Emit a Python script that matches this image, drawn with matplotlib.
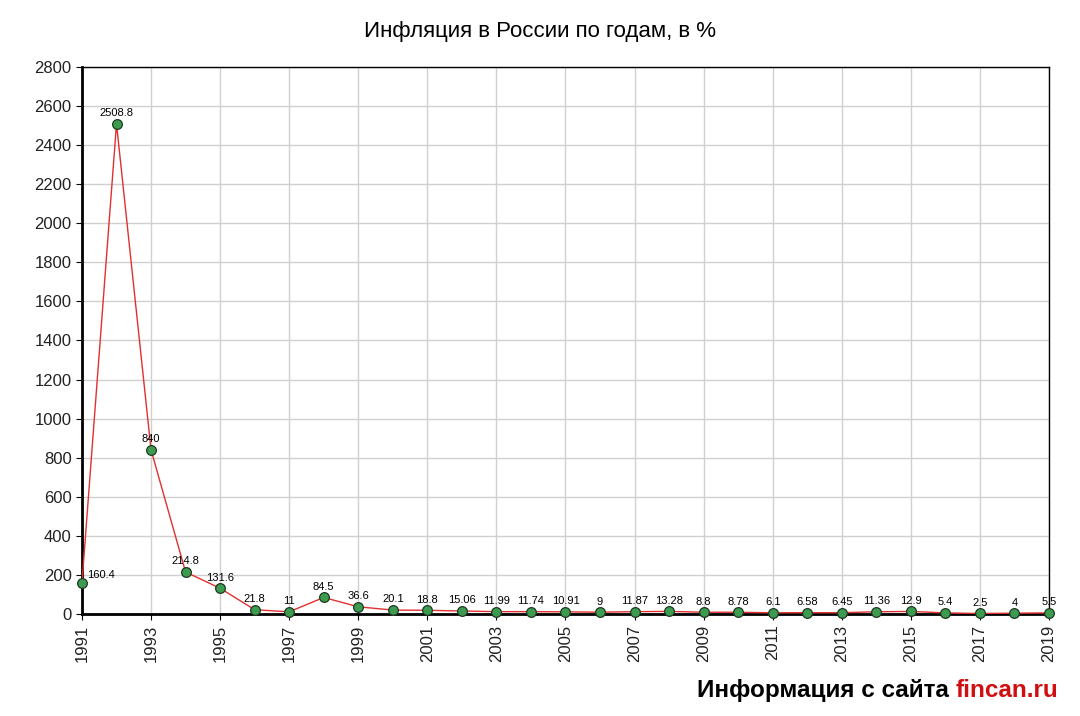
"""Инфляция в России по годам."""

import matplotlib.pyplot as plt

years = list(range(1991, 2020))
inflation = [160.4, 2508.8, 840, 214.8, 131.6, 21.8, 11, 84.5, 36.6, 20.1,
             18.8, 15.06, 11.99, 11.74, 10.91, 9, 11.87, 13.28, 8.8, 8.78,
             6.1, 6.58, 6.45, 11.36, 12.9, 5.4, 2.5, 4, 5.5]
labels = ["160.4", "2508.8", "840", "214.8", "131.6", "21.8", "11", "84.5",
          "36.6", "20.1", "18.8", "15.06", "11.99", "11.74", "10.91", "9",
          "11.87", "13.28", "8.8", "8.78", "6.1", "6.58", "6.45", "11.36",
          "12.9", "5.4", "2.5", "4", "5.5"]

plt.rcParams["font.family"] = ["Liberation Sans", "DejaVu Sans"]

fig = plt.figure(figsize=(10.8, 7.16), dpi=100)
ax = fig.add_axes([0.0759, 0.1425, 0.8954, 0.764])

ax.plot(years, inflation, color="#e03030", linewidth=1.0, zorder=3)
ax.plot(years, inflation, linestyle="none", marker="o", markersize=7,
        markerfacecolor="#3d9b50", markeredgecolor="#1e3a22",
        markeredgewidth=0.9, zorder=4, clip_on=False)

for i, (x, y, t) in enumerate(zip(years, inflation, labels)):
    if i == 0:
        ax.annotate(t, (x, y), xytext=(4, 2), textcoords="offset points",
                    fontsize=8, ha="left", va="bottom")
    else:
        ax.annotate(t, (x, y), xytext=(0, 4), textcoords="offset points",
                    fontsize=8, ha="center", va="bottom")

ax.set_xlim(1991, 2019)
ax.set_ylim(0, 2800)
ax.set_xticks(range(1991, 2020, 2))
ax.set_yticks(range(0, 2801, 200))
ax.tick_params(axis="x", labelrotation=90, labelsize=12, length=4,
               labelcolor="#222222")
ax.tick_params(axis="y", labelsize=12, length=4, labelcolor="#222222")
ax.grid(True, color="#d0d0d0", linewidth=1.0)
ax.set_axisbelow(True)

for side in ["top", "right"]:
    ax.spines[side].set_linewidth(1.0)
for side in ["left", "bottom"]:
    ax.spines[side].set_linewidth(2.0)

fig.text(0.5, 0.956, "Инфляция в России по годам, в %", ha="center",
         va="center", fontsize=16)
t1 = fig.text(0.645, 0.036, "Информация с сайта", ha="left", va="center",
              fontsize=17.5, fontweight="bold", color="black")
ax.annotate("fincan.ru", xy=(1, 0), xycoords=t1, xytext=(5, 0),
            textcoords="offset points", ha="left", va="bottom",
            fontsize=17.5, fontweight="bold", color="#d01010",
            annotation_clip=False)

fig.savefig("out.png", dpi=100)
